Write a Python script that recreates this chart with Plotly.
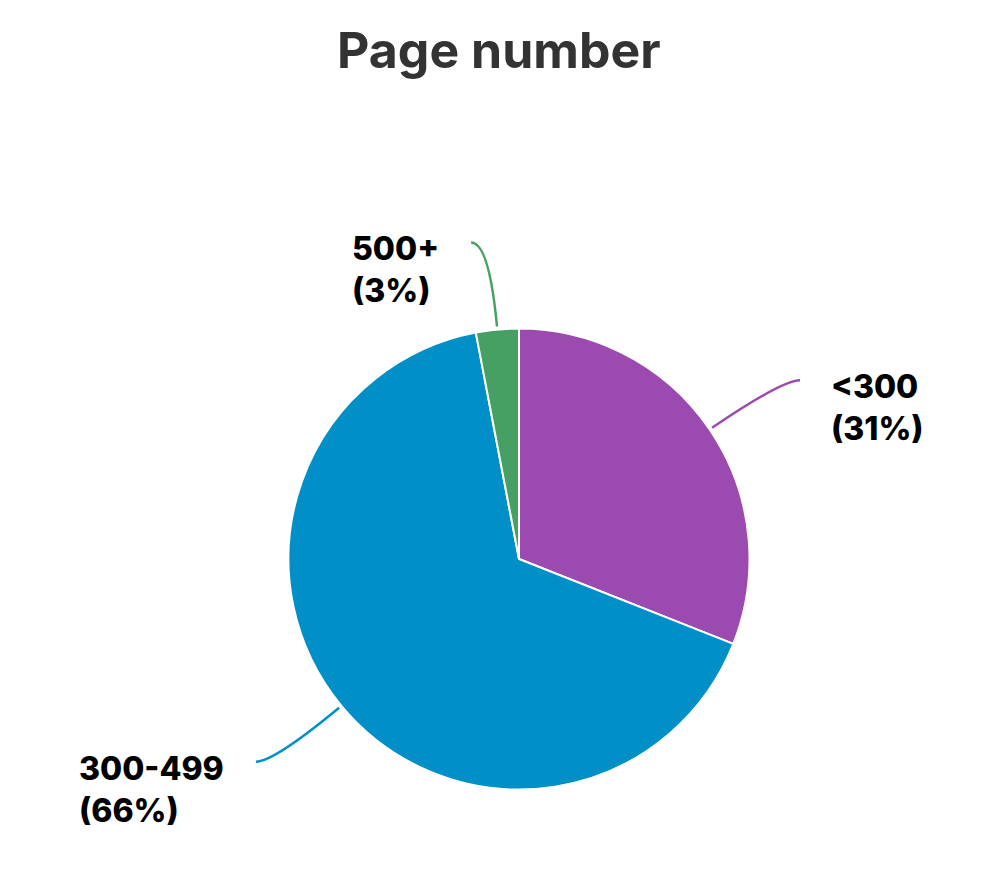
import math
import plotly.graph_objects as go

# ---- data ----
categories = ["<300", "300-499", "500+"]
values = [31, 66, 3]
colors = ["#9B4BAF", "#008FC7", "#46A064"]
title_text = "Page number"

# page body has an 8px margin; plot is sized to fit the window
OFF = 8
PW, PH = 1005 - 2 * OFF, 883 - 2 * OFF
CX, CY, R = 519, 559, 230.5   # pie placement in window px

FONT = "Inter"

fig = go.Figure()

fig.add_trace(go.Pie(
    labels=categories,
    values=values,
    sort=False,
    direction="clockwise",
    rotation=0,
    marker=dict(colors=colors, line=dict(color="white", width=2)),
    textinfo="none",
    hoverinfo="label+percent",
    showlegend=False,
    domain=dict(x=[(CX - R - OFF) / PW, (CX + R - OFF) / PW],
                y=[1 - (CY + R - OFF) / PH, 1 - (CY - R - OFF) / PH]),
))

# hidden window-pixel axes for leader lines & labels
fig.add_trace(go.Scatter(x=[OFF], y=[OFF], mode="markers",
                         marker=dict(opacity=0), hoverinfo="skip", showlegend=False))

total = sum(values)
shapes = []
annotations = []
cum = 0.0
for cat, v, col in zip(categories, values, colors):
    frac_mid = (cum + v / 2) / total
    cum += v
    th = 2 * math.pi * frac_mid
    dx, dy = math.sin(th), -math.cos(th)
    r0, r1 = R + 3, 318
    sx, sy = CX + r0 * dx, CY + r0 * dy
    qx, qy = CX + r1 * dx, CY + r1 * dy
    side = 1 if dx >= 0 else -1
    ex, ey = qx + side * 18, qy
    shapes.append(dict(
        type="path", xref="x", yref="y",
        path=f"M {sx:.1f},{sy:.1f} Q {qx:.1f},{qy:.1f} {ex:.1f},{ey:.1f}",
        line=dict(color=col, width=2.5),
    ))
    pct = round(100 * v / total)
    if side > 0:
        tx, anchor = ex + 29, "left"
    else:
        tx, anchor = ex - 30, "right"
    annotations.append(dict(
        x=tx, y=ey - 15, xref="x", yref="y",
        text=f"{cat}<br>({pct}%)",
        showarrow=False, xanchor=anchor, yanchor="top", align="left",
        font=dict(family=FONT, size=32, color="#000000", weight=800),
    ))

annotations.append(dict(
    x=499, y=50, xref="x", yref="y", text=title_text, showarrow=False,
    xanchor="center", yanchor="middle",
    font=dict(family=FONT, size=50, color="#333333", weight=700),
))

fig.update_layout(
    width=PW, height=PH,
    margin=dict(l=0, r=0, t=0, b=0),
    paper_bgcolor="white", plot_bgcolor="rgba(0,0,0,0)",
    xaxis=dict(range=[OFF, OFF + PW], visible=False, fixedrange=True),
    yaxis=dict(range=[OFF + PH, OFF], visible=False, fixedrange=True),
    shapes=shapes,
    annotations=annotations,
)

fig.write_html("out.html")
